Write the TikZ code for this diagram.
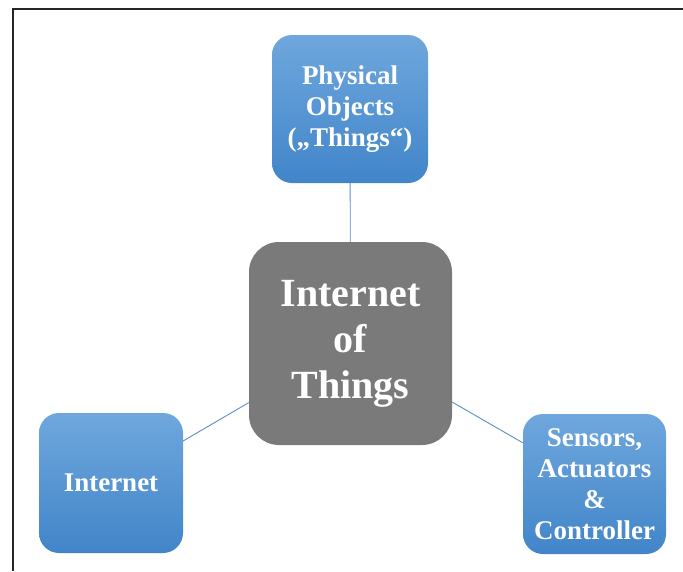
\documentclass[tikz,border=0pt]{standalone}
\usepackage{fontspec}
\setmainfont{Liberation Serif}
\definecolor{boxtop}{HTML}{6FA7DD}
\definecolor{boxbot}{HTML}{4185C9}
\definecolor{hubgray}{HTML}{7A7A7A}
\definecolor{linkblue}{HTML}{5B8FC9}
\tikzset{
  leaf/.style={shade, top color=boxtop, bottom color=boxbot, rounded corners=20pt,
    text=white, align=center, inner sep=0pt,
    font=\bfseries\fontsize{27}{31}\selectfont},
  hub/.style={fill=hubgray, rounded corners=30pt, text=white, align=center,
    inner sep=0pt, minimum width=203pt, minimum height=203pt,
    font=\bfseries\fontsize{40}{46}\selectfont},
  link/.style={draw=linkblue, line width=0.9pt}
}
\begin{document}
\begin{tikzpicture}[x=1pt,y=-1pt]
  \useasboundingbox (0,0) rectangle (683,571);
  % page frame
  \draw[line width=1.2pt, black!85] (683,9) -- (13,9) -- (13,571);

  \node[hub] (iot) at (350.5,343.5) {Internet\\of\\Things};
  \node[leaf, minimum width=156pt, minimum height=148pt] (phys) at (350,109)
    {Physical\\Objects\\(„Things“)};
  \node[leaf, minimum width=144pt, minimum height=140pt] (inet) at (111,483)
    {Internet};
  \node[leaf, minimum width=143pt, minimum height=140pt] (sens) at (594.5,484)
    {Sensors,\\Actuators\\\&\\Controller};

  \draw[link] (phys) -- (iot);
  \draw[link] (inet) -- (iot);
  \draw[link] (iot) -- (sens);
\end{tikzpicture}
\end{document}
